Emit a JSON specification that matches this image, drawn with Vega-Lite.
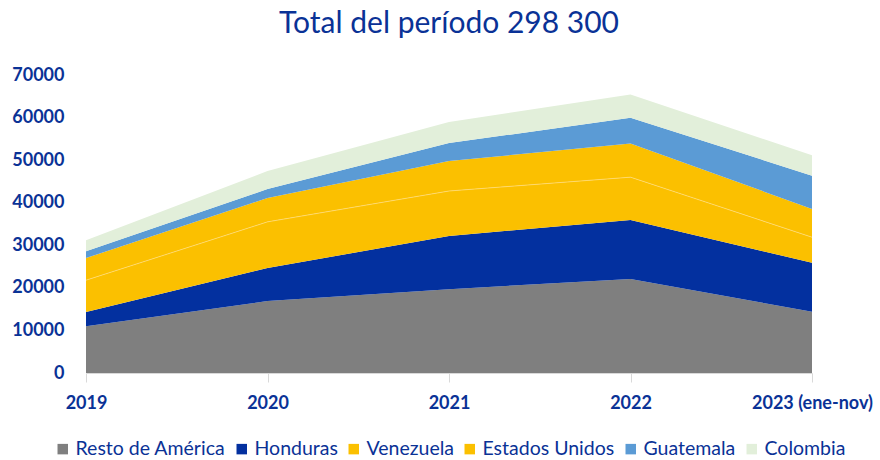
{
  "$schema": "https://vega.github.io/schema/vega-lite/v6.json",
  "width": 726,
  "height": 298,
  "autosize": {"type": "none"},
  "padding": {"left": 86, "top": 75, "right": 68, "bottom": 87},
  "background": "white",
  "title": {
    "text": "Total del período 298 300",
    "anchor": "middle",
    "fontSize": 30,
    "font": "Lato",
    "fontWeight": "normal",
    "color": "#0A3296",
    "offset": 27
  },
  "config": {
    "view": {"stroke": null},
    "font": "Lato",
    "legend": {"layout": {"bottom": {"anchor": "middle"}}}
  },
  "data": {
    "values": [
      {"anio": "2019", "pais": "Resto de América", "orden": 1, "valor": 11000},
      {"anio": "2019", "pais": "Honduras", "orden": 2, "valor": 3300},
      {"anio": "2019", "pais": "Venezuela", "orden": 3, "valor": 7500},
      {"anio": "2019", "pais": "Estados Unidos", "orden": 4, "valor": 5200},
      {"anio": "2019", "pais": "Guatemala", "orden": 5, "valor": 1600},
      {"anio": "2019", "pais": "Colombia", "orden": 6, "valor": 2600},
      {"anio": "2020", "pais": "Resto de América", "orden": 1, "valor": 16900},
      {"anio": "2020", "pais": "Honduras", "orden": 2, "valor": 7750},
      {"anio": "2020", "pais": "Venezuela", "orden": 3, "valor": 10850},
      {"anio": "2020", "pais": "Estados Unidos", "orden": 4, "valor": 5600},
      {"anio": "2020", "pais": "Guatemala", "orden": 5, "valor": 2100},
      {"anio": "2020", "pais": "Colombia", "orden": 6, "valor": 4250},
      {"anio": "2021", "pais": "Resto de América", "orden": 1, "valor": 19700},
      {"anio": "2021", "pais": "Honduras", "orden": 2, "valor": 12500},
      {"anio": "2021", "pais": "Venezuela", "orden": 3, "valor": 10550},
      {"anio": "2021", "pais": "Estados Unidos", "orden": 4, "valor": 7050},
      {"anio": "2021", "pais": "Guatemala", "orden": 5, "valor": 4200},
      {"anio": "2021", "pais": "Colombia", "orden": 6, "valor": 4950},
      {"anio": "2022", "pais": "Resto de América", "orden": 1, "valor": 22100},
      {"anio": "2022", "pais": "Honduras", "orden": 2, "valor": 13850},
      {"anio": "2022", "pais": "Venezuela", "orden": 3, "valor": 10050},
      {"anio": "2022", "pais": "Estados Unidos", "orden": 4, "valor": 7900},
      {"anio": "2022", "pais": "Guatemala", "orden": 5, "valor": 6050},
      {"anio": "2022", "pais": "Colombia", "orden": 6, "valor": 5450},
      {"anio": "2023 (ene-nov)", "pais": "Resto de América", "orden": 1, "valor": 14400},
      {"anio": "2023 (ene-nov)", "pais": "Honduras", "orden": 2, "valor": 11500},
      {"anio": "2023 (ene-nov)", "pais": "Venezuela", "orden": 3, "valor": 6000},
      {"anio": "2023 (ene-nov)", "pais": "Estados Unidos", "orden": 4, "valor": 6650},
      {"anio": "2023 (ene-nov)", "pais": "Guatemala", "orden": 5, "valor": 7800},
      {"anio": "2023 (ene-nov)", "pais": "Colombia", "orden": 6, "valor": 4800}
    ]
  },
  "transform": [
    {
      "stack": "valor",
      "groupby": ["anio"],
      "sort": [{"field": "orden", "order": "ascending"}],
      "as": ["base", "tope"]
    }
  ],
  "encoding": {
    "x": {
      "field": "anio",
      "type": "ordinal",
      "scale": {"type": "point", "padding": 0},
      "axis": {
        "title": null,
        "labelAngle": 0,
        "labelFontSize": 18,
        "labelFontWeight": "bold",
        "labelColor": "#0A3296",
        "labelPadding": 12,
        "domainColor": "#D9D9D9",
        "tickColor": "#D9D9D9",
        "tickSize": 9,
        "grid": false
      }
    }
  },
  "layer": [
    {
      "mark": {"type": "area", "interpolate": "linear"},
      "encoding": {
        "y": {
          "field": "tope",
          "type": "quantitative",
          "scale": {"domain": [0, 70000], "nice": false},
          "axis": {
            "title": null,
            "values": [0, 10000, 20000, 30000, 40000, 50000, 60000, 70000],
            "format": "d",
            "labelFontSize": 18,
            "labelFontWeight": "bold",
            "labelColor": "#0A3296",
            "labelPadding": 22,
            "domain": false,
            "ticks": false,
            "grid": false
          }
        },
        "y2": {"field": "base"},
        "color": {
          "field": "pais",
          "type": "nominal",
          "sort": ["Resto de América", "Honduras", "Venezuela", "Estados Unidos", "Guatemala", "Colombia"],
          "scale": {
            "domain": ["Resto de América", "Honduras", "Venezuela", "Estados Unidos", "Guatemala", "Colombia"],
            "range": ["#7F7F7F", "#03309F", "#FBC000", "#FBC000", "#5B9BD5", "#E2EFDA"]
          },
          "legend": {
            "title": null,
            "orient": "bottom",
            "direction": "horizontal",
            "symbolType": "square",
            "symbolSize": 110,
            "symbolStrokeWidth": 0,
            "labelFontSize": 19.5,
            "labelLimit": 400,
            "labelColor": "#0A3296",
            "labelOffset": 3,
            "columnPadding": 6,
            "offset": 27
          }
        }
      }
    },
    {
      "transform": [{"filter": "datum.pais === 'Venezuela'"}],
      "mark": {"type": "line", "interpolate": "linear", "color": "#FFDD80", "strokeWidth": 1, "strokeOpacity": 0.7},
      "encoding": {
        "y": {"field": "tope", "type": "quantitative"}
      }
    }
  ]
}
